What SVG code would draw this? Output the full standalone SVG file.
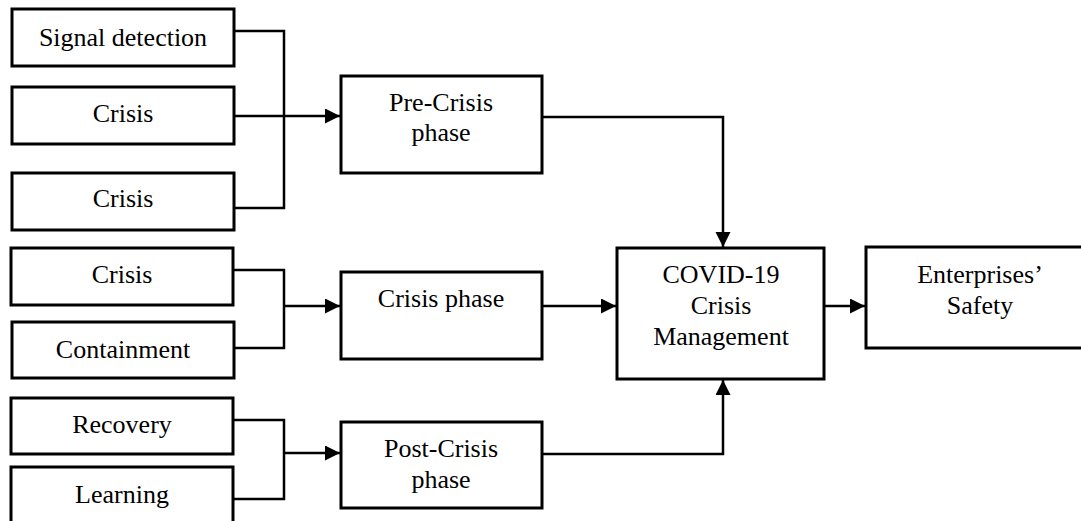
<svg xmlns="http://www.w3.org/2000/svg" width="1081" height="521" viewBox="0 0 1081 521">
  <style>
    .box { fill: #ffffff; stroke: #000000; stroke-width: 3; }
    .line { fill: none; stroke: #000000; stroke-width: 2.5; }
    .lbl { font-family: "Liberation Serif", "Times New Roman", serif; font-size: 26px; fill: #000000; text-anchor: middle; }
  </style>
  <defs>
    <marker id="arrow" markerUnits="userSpaceOnUse" markerWidth="16" markerHeight="16" refX="15" refY="7.5" orient="auto">
      <path d="M0,0 L15,7.5 L0,15 Z" fill="#000000"/>
    </marker>
  </defs>
  <rect width="1081" height="521" fill="#ffffff"/>

  <g id="connectors">
    <polyline class="line" points="234,31 284,31 284,208 234,208"/>
    <line class="line" x1="234" y1="116" x2="340" y2="116" marker-end="url(#arrow)"/>
    <polyline class="line" points="234,270 284,270 284,348 234,348"/>
    <line class="line" x1="284" y1="306" x2="340" y2="306" marker-end="url(#arrow)"/>
    <polyline class="line" points="234,420 284,420 284,499 234,499"/>
    <line class="line" x1="284" y1="453" x2="340" y2="453" marker-end="url(#arrow)"/>
    <polyline class="line" points="542,117 723,117 723,247" marker-end="url(#arrow)"/>
    <line class="line" x1="542" y1="306" x2="616" y2="306" marker-end="url(#arrow)"/>
    <polyline class="line" points="542,454 723,454 723,380" marker-end="url(#arrow)"/>
    <line class="line" x1="824" y1="306" x2="865" y2="306" marker-end="url(#arrow)"/>
  </g>

  <g id="signal-detection">
    <rect class="box" x="12" y="9" width="222" height="57"/>
    <text class="lbl" x="123" y="46">Signal detection</text>
  </g>
  <g id="crisis-1">
    <rect class="box" x="12" y="87" width="222" height="57"/>
    <text class="lbl" x="123" y="122">Crisis</text>
  </g>
  <g id="crisis-2">
    <rect class="box" x="12" y="173" width="222" height="57"/>
    <text class="lbl" x="123" y="207">Crisis</text>
  </g>
  <g id="crisis-3">
    <rect class="box" x="11" y="248" width="222" height="57"/>
    <text class="lbl" x="122" y="283">Crisis</text>
  </g>
  <g id="containment">
    <rect class="box" x="12" y="322" width="222" height="56"/>
    <text class="lbl" x="123" y="358">Containment</text>
  </g>
  <g id="recovery">
    <rect class="box" x="11" y="398" width="222" height="56"/>
    <text class="lbl" x="122" y="433">Recovery</text>
  </g>
  <g id="learning">
    <rect class="box" x="11" y="467" width="222" height="70"/>
    <text class="lbl" x="122" y="503">Learning</text>
  </g>

  <g id="pre-crisis-phase">
    <rect class="box" x="341" y="76" width="201" height="97"/>
    <text class="lbl" x="441" y="111">Pre-Crisis</text>
    <text class="lbl" x="441" y="141">phase</text>
  </g>
  <g id="crisis-phase">
    <rect class="box" x="341" y="272" width="201" height="87"/>
    <text class="lbl" x="441" y="307">Crisis phase</text>
  </g>
  <g id="post-crisis-phase">
    <rect class="box" x="341" y="422" width="201" height="86"/>
    <text class="lbl" x="441" y="457">Post-Crisis</text>
    <text class="lbl" x="441" y="488">phase</text>
  </g>

  <g id="covid-crisis-management">
    <rect class="box" x="617" y="248" width="207" height="131"/>
    <text class="lbl" x="721" y="283">COVID-19</text>
    <text class="lbl" x="721" y="314">Crisis</text>
    <text class="lbl" x="721" y="345">Management</text>
  </g>
  <g id="enterprises-safety">
    <rect class="box" x="866" y="247" width="230" height="101"/>
    <text class="lbl" x="980" y="283">Enterprises’</text>
    <text class="lbl" x="980" y="314">Safety</text>
  </g>
</svg>
